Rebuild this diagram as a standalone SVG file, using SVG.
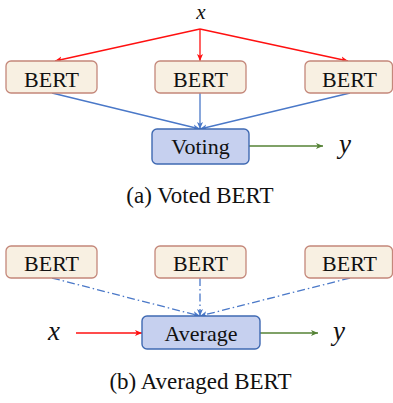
<svg xmlns="http://www.w3.org/2000/svg" width="393" height="403" viewBox="0 0 393 403">
<style>
.bert{fill:#f8f0e2;stroke:#c4877a;stroke-width:1.3}
.agg{fill:#c6d0ef;stroke:#3f69b2;stroke-width:1.4}
.t{font-family:"Liberation Serif","Times New Roman",serif;font-size:22px;fill:#111;text-anchor:middle}
.m{font-family:"Liberation Serif","Times New Roman",serif;font-style:italic;font-size:27px;fill:#111;text-anchor:middle}
.cap{font-family:"Liberation Serif","Times New Roman",serif;font-size:23px;fill:#111;text-anchor:middle}
.r{stroke:#ff1010;stroke-width:1.3;fill:none}
.b{stroke:#4a78c8;stroke-width:1.3;fill:none}
.bd{stroke:#4a78c8;stroke-width:1.3;fill:none;stroke-dasharray:8 3 1.5 3}
.g{stroke:#548235;stroke-width:1.3;fill:none}
</style>
<defs>
<marker id="ar" markerUnits="userSpaceOnUse" markerWidth="9" markerHeight="7" refX="7" refY="3.5" orient="auto"><path d="M0,0.5 L7,3.5 L0,6.5 L1.8,3.5 z" fill="#ff1010"/></marker>
<marker id="ab" markerUnits="userSpaceOnUse" markerWidth="9" markerHeight="7" refX="7" refY="3.5" orient="auto"><path d="M0,0.5 L7,3.5 L0,6.5 L1.8,3.5 z" fill="#4a78c8"/></marker>
<marker id="ag" markerUnits="userSpaceOnUse" markerWidth="9" markerHeight="7" refX="7" refY="3.5" orient="auto"><path d="M0,0.5 L7,3.5 L0,6.5 L1.8,3.5 z" fill="#548235"/></marker>
</defs>
<g id="connectors">
<path class="r" d="M200,29 L55,61" marker-end="url(#ar)"/>
<path class="r" d="M200,29 L200,61" marker-end="url(#ar)"/>
<path class="r" d="M200,29 L348,61" marker-end="url(#ar)"/>
<path class="b" d="M52,93 L200,129" marker-end="url(#ab)"/>
<path class="b" d="M200,93 L200,129" marker-end="url(#ab)"/>
<path class="b" d="M350,93 L200,129" marker-end="url(#ab)"/>
<path class="g" d="M249,146 L323,146" marker-end="url(#ag)"/>
<path class="bd" d="M52,278 L200,316" marker-end="url(#ab)"/>
<path class="bd" d="M200,278 L200,316" marker-end="url(#ab)"/>
<path class="bd" d="M350,278 L200,316" marker-end="url(#ab)"/>
<path class="r" d="M76,333 L142,333" marker-end="url(#ar)"/>
<path class="g" d="M260,333 L318,333" marker-end="url(#ag)"/>
</g>
<g id="x-top"><text class="m" x="201" y="18.5" style="font-size:21px">x</text></g>
<g id="bert-a1"><rect class="bert" x="6" y="61" width="91" height="32" rx="5"/><text class="t" x="51.5" y="86.5">BERT</text></g>
<g id="bert-a2"><rect class="bert" x="155" y="61" width="91" height="32" rx="5"/><text class="t" x="200.5" y="86.5">BERT</text></g>
<g id="bert-a3"><rect class="bert" x="305" y="61" width="87.5" height="32" rx="5"/><text class="t" x="349.5" y="86.5">BERT</text></g>
<g id="voting"><rect class="agg" x="152" y="129" width="97" height="35" rx="5"/><text class="t" x="200.5" y="154.3">Voting</text></g>
<g id="y-top"><text class="m" x="345" y="153">y</text></g>
<g id="caption-a"><text class="cap" x="200" y="203">(a) Voted BERT</text></g>
<g id="bert-b1"><rect class="bert" x="6" y="246" width="91" height="32" rx="5"/><text class="t" x="51.5" y="270.7">BERT</text></g>
<g id="bert-b2"><rect class="bert" x="155" y="246" width="91" height="32" rx="5"/><text class="t" x="200.5" y="270.7">BERT</text></g>
<g id="bert-b3"><rect class="bert" x="305" y="246" width="87.5" height="32" rx="5"/><text class="t" x="349.5" y="270.7">BERT</text></g>
<g id="average"><rect class="agg" x="142" y="316" width="118" height="33" rx="5"/><text class="t" x="201" y="340.5">Average</text></g>
<g id="x-bot"><text class="m" x="54" y="340">x</text></g>
<g id="y-bot"><text class="m" x="339" y="340">y</text></g>
<g id="caption-b"><text class="cap" x="200.5" y="389">(b) Averaged BERT</text></g>
</svg>
